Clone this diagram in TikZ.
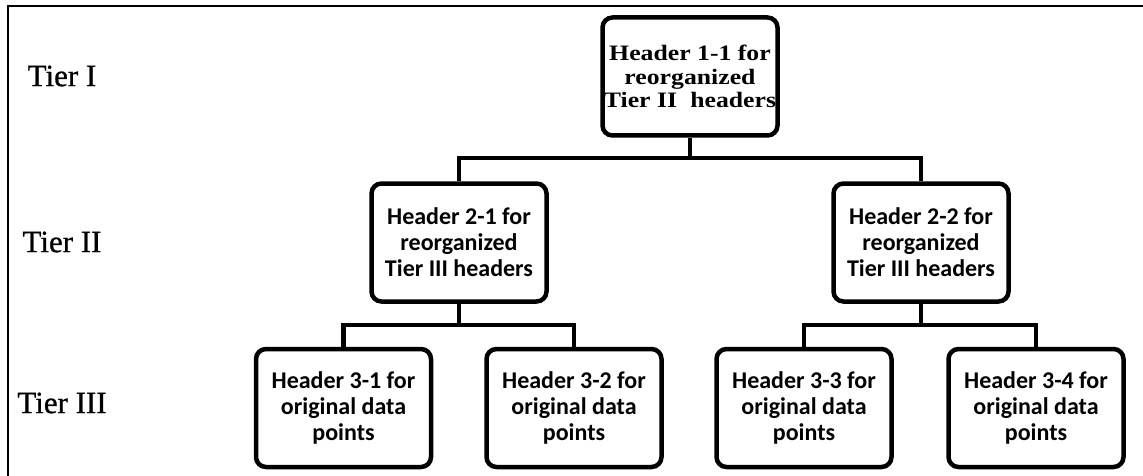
\documentclass[tikz,border=0pt]{standalone}
\usepackage{fontspec}
\setmainfont{Liberation Serif}
\newfontfamily\boxfont{Carlito}
\newfontfamily\topfont[FakeStretch=1.17]{Liberation Serif}
\newfontfamily\tierfont[FakeBold=0.8]{Liberation Serif}
\begin{document}
\begin{tikzpicture}[x=1pt,y=-1pt,
  hdrbox/.style={draw, line width=4.5pt, rounded corners=10pt, align=center,
    inner sep=0pt, font=\boxfont\bfseries\fontsize{24}{26}\selectfont,
    minimum width=175pt, minimum height=118pt},
  topbox/.style={hdrbox, font=\topfont\bfseries\fontsize{22}{23.5}\selectfont},
  tierlbl/.style={font=\tierfont\fontsize{31}{34}\selectfont, inner sep=0pt},
  conn/.style={line width=4.5pt, line join=miter},
  frameline/.style={line width=2.5pt, line join=miter}]
\useasboundingbox (0,0) rectangle (1143,476);
\draw[frameline] (8,476) -- (8,6) -- (1143,6);

\node[tierlbl] (l1) at (62,76) {Tier I};
\node[tierlbl] (l2) at (62,242) {Tier II};
\node[tierlbl] (l3) at (62,403) {Tier III};

\node[topbox] (top) at (690,76.5) {Header 1-1 for\\reorganized\\Tier II\hspace{0.6em}headers};
\node[hdrbox] (t21) at (459,242.5) {Header 2-1 for\\reorganized\\Tier III headers};
\node[hdrbox] (t22) at (921,242.5) {Header 2-2 for\\reorganized\\Tier III headers};
\node[hdrbox] (t31) at (343.5,408) {Header 3-1 for\\original data\\points};
\node[hdrbox] (t32) at (574,408) {Header 3-2 for\\original data\\points};
\node[hdrbox] (t33) at (804,408) {Header 3-3 for\\original data\\points};
\node[hdrbox] (t34) at (1036,408) {Header 3-4 for\\original data\\points};

\coordinate (bus1) at (690,158);
\coordinate (bus2) at (459,325);
\coordinate (bus3) at (921,325);

\draw[conn] (top.south) -- (bus1);
\draw[conn] (t21.north) |- (bus1) -| (t22.north);
\draw[conn] (t21.south) -- (bus2);
\draw[conn] (t31.north) |- (bus2) -| (t32.north);
\draw[conn] (t22.south) -- (bus3);
\draw[conn] (t33.north) |- (bus3) -| (t34.north);
\end{tikzpicture}
\end{document}
